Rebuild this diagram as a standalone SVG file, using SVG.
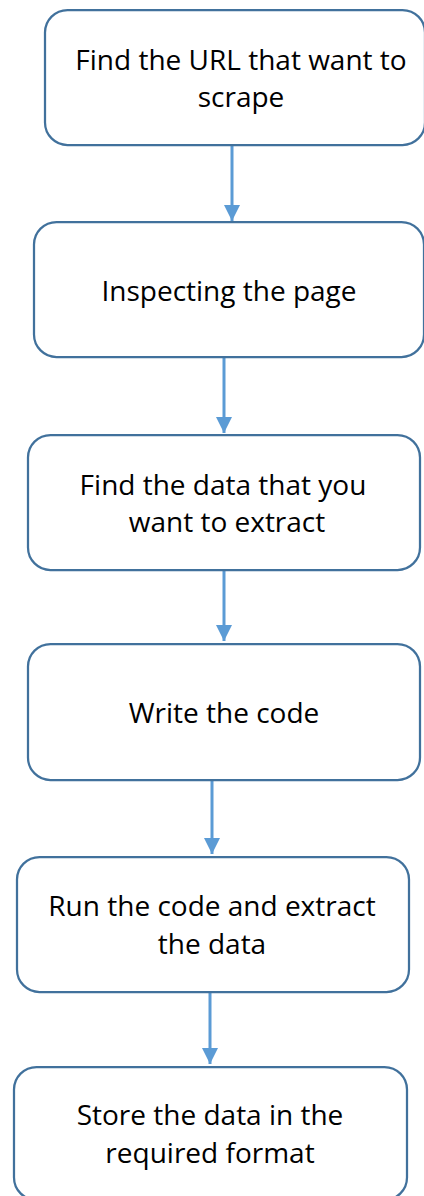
<svg xmlns="http://www.w3.org/2000/svg" width="424" height="1196" viewBox="0 0 424 1196">
  <defs>
    <style>
      .box { fill: #ffffff; stroke: #41719c; stroke-width: 2.25; }
      .label { font-family: "Open Sans", "Noto Sans", sans-serif; font-size: 28px; fill: #000000; text-anchor: middle; }
      .link { stroke: #5b9bd5; stroke-width: 3; fill: none; marker-end: url(#head); }
    </style>
    <marker id="head" viewBox="0 0 10 10" refX="10" refY="5" markerUnits="userSpaceOnUse" markerWidth="16" markerHeight="16" orient="auto">
      <path d="M0,0 L10,5 L0,10 z" fill="#5b9bd5"/>
    </marker>
  </defs>
  <rect width="424" height="1196" fill="#ffffff"/>

  <!-- connectors between the steps -->
  <g id="connectors">
    <line class="link" x1="232" y1="146" x2="232" y2="221"/>
    <line class="link" x1="224" y1="358" x2="224" y2="433"/>
    <line class="link" x1="224" y1="565" x2="224" y2="641"/>
    <line class="link" x1="212" y1="780" x2="212" y2="854"/>
    <line class="link" x1="210" y1="987" x2="210" y2="1064"/>
  </g>

  <g id="step1">
    <rect class="box" x="45" y="10" width="380" height="135" rx="22.5"/>
    <text class="label" x="241" y="70">Find the URL that want to</text>
    <text class="label" x="241" y="107">scrape</text>
  </g>

  <g id="step2">
    <rect class="box" x="34" y="222" width="390" height="135" rx="22.5"/>
    <text class="label" x="229" y="301">Inspecting the page</text>
  </g>

  <g id="step3">
    <rect class="box" x="28" y="435" width="392" height="135" rx="22.5"/>
    <text class="label" x="223" y="495">Find the data that you</text>
    <text class="label" x="227" y="532">want to extract</text>
  </g>

  <g id="step4">
    <rect class="box" x="28" y="644" width="392" height="136" rx="22.5"/>
    <text class="label" x="224" y="723">Write the code</text>
  </g>

  <g id="step5">
    <rect class="box" x="17" y="857" width="392" height="135" rx="22.5"/>
    <text class="label" x="212" y="916">Run the code and extract</text>
    <text class="label" x="212" y="954">the data</text>
  </g>

  <g id="step6">
    <rect class="box" x="14" y="1067" width="393" height="133" rx="22.5"/>
    <text class="label" x="210" y="1125">Store the data in the</text>
    <text class="label" x="210" y="1163">required format</text>
  </g>
</svg>
